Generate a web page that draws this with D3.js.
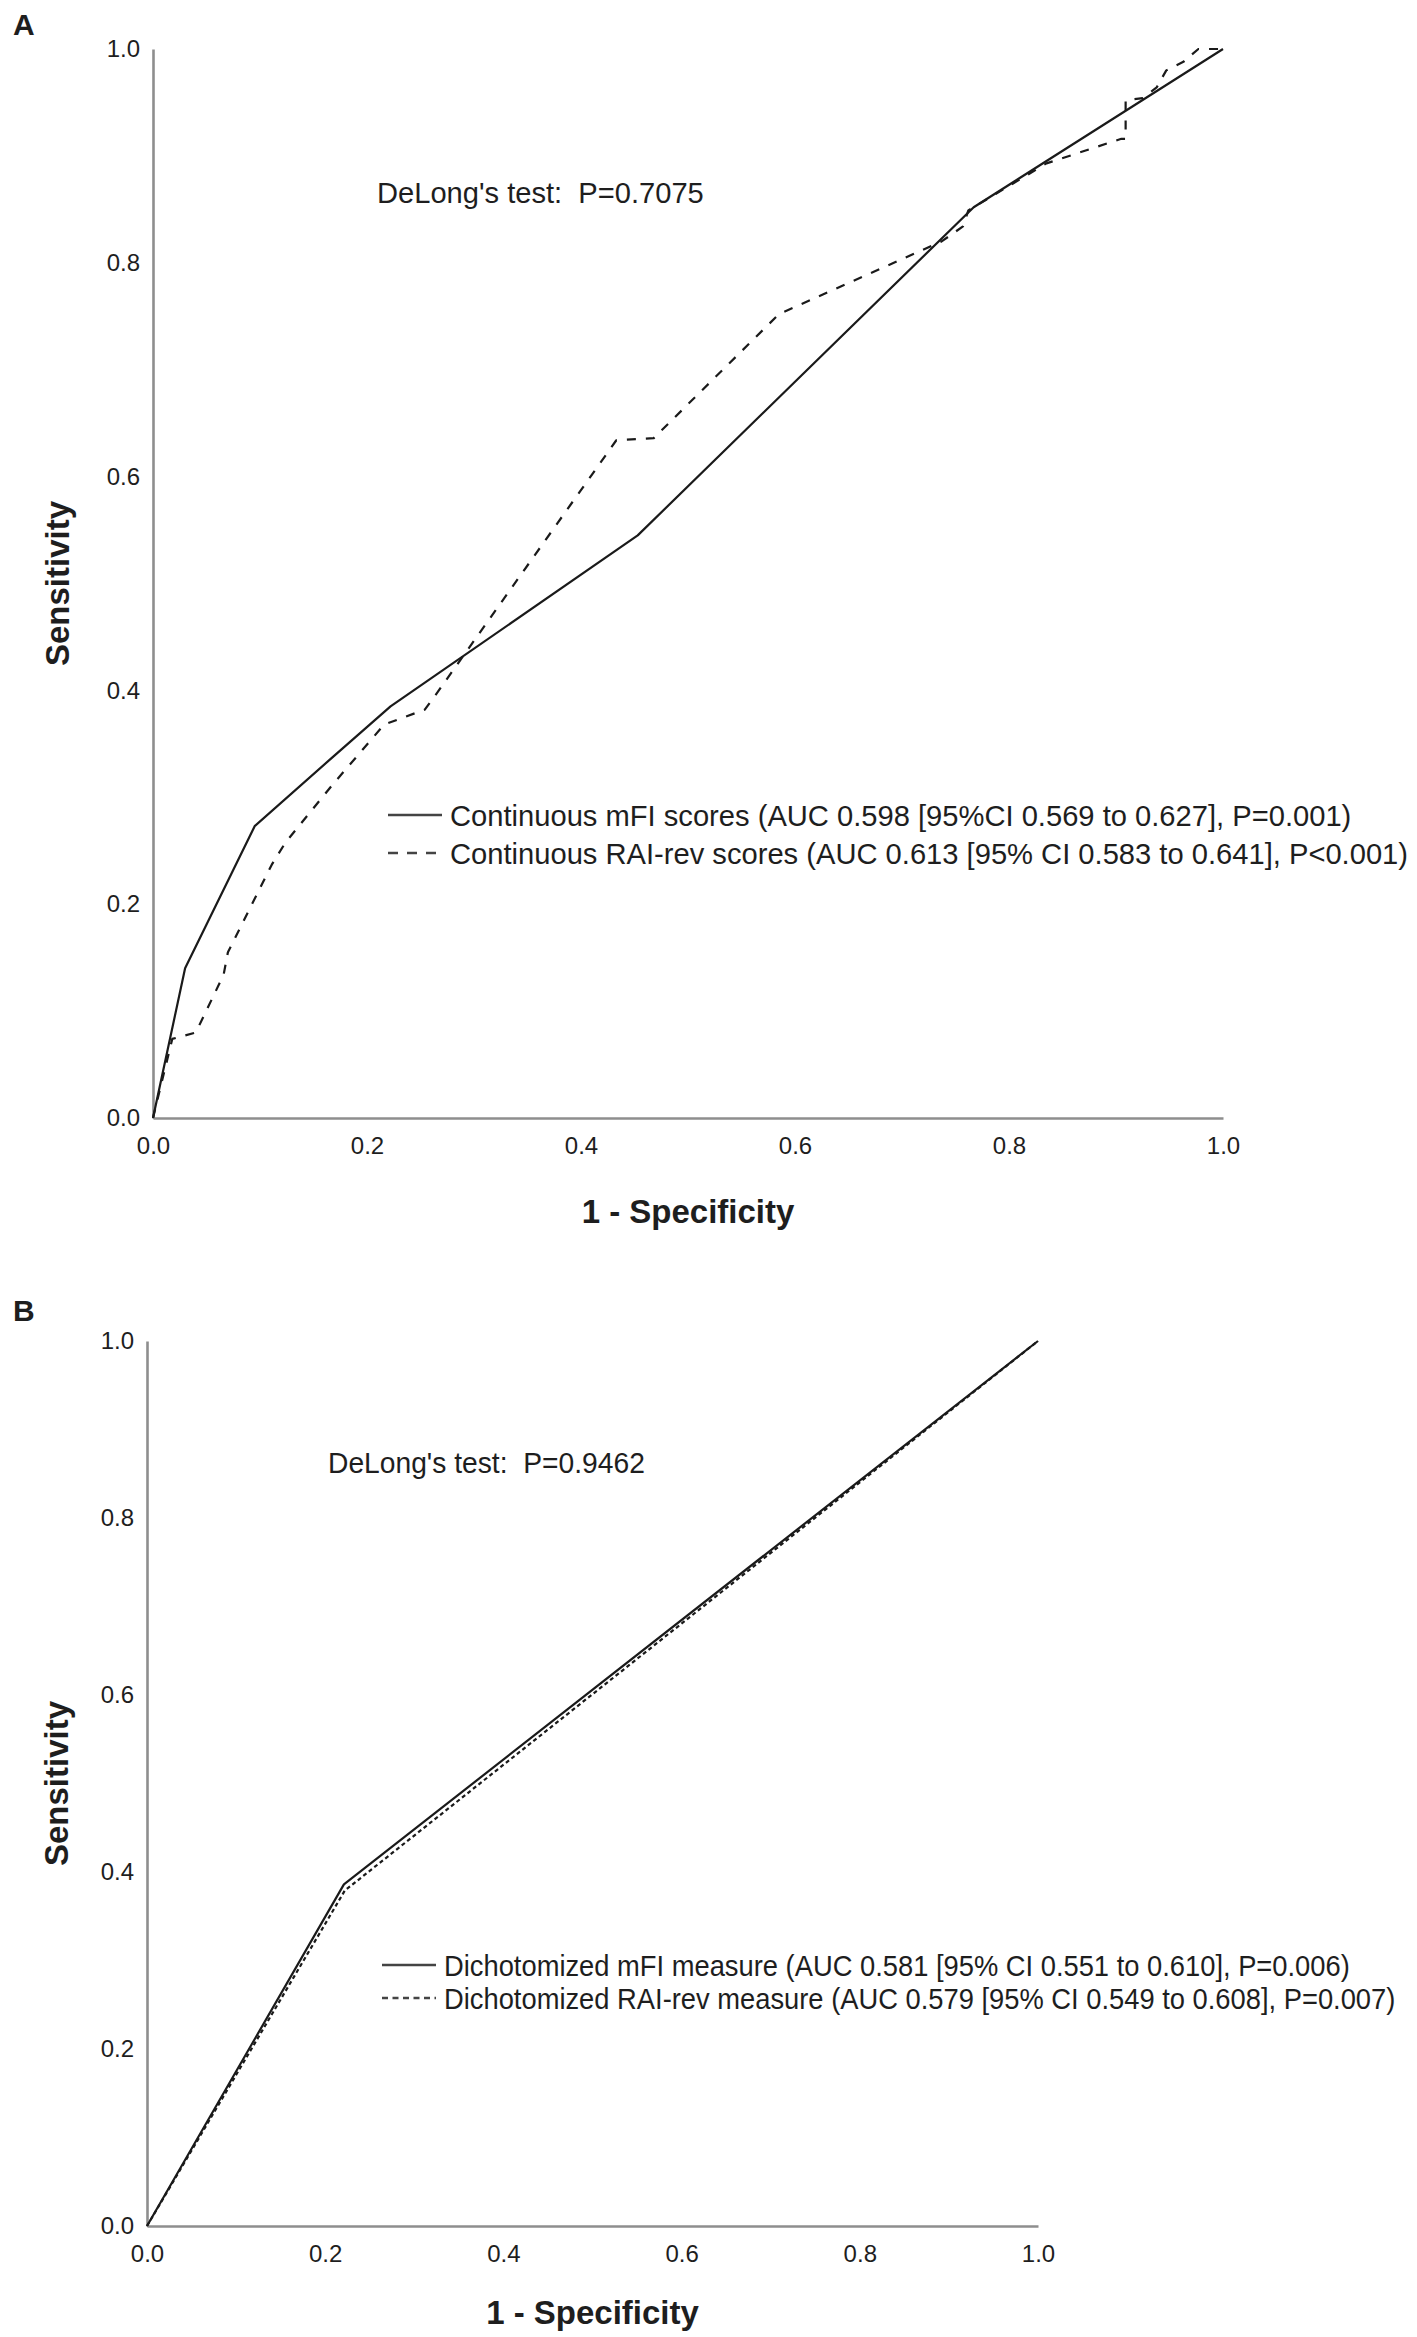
<!DOCTYPE html>
<html><head><meta charset="utf-8">
<script src="https://cdn.jsdelivr.net/npm/d3@7"></script>
<style>
body{margin:0;background:#fff}
svg{display:block}
text{font-family:"Liberation Sans",Arial,Helvetica,sans-serif;fill:#1e1e1e;white-space:pre}
</style>
</head><body>
<svg id="chart" width="1417" height="2337"></svg>
<script>
// ---------- data ----------
const tickValues = [0, 0.2, 0.4, 0.6, 0.8, 1.0];

// Panel A: continuous scores, [1 - specificity, sensitivity]
const contMFI = [[0,0],[0.030,0.140],[0.095,0.273],[0.165,0.335],[0.222,0.385],[0.453,0.545],[0.767,0.852],[1,1]];
const contRAI = [[0,0],[0.018,0.074],[0.040,0.080],[0.066,0.134],[0.070,0.155],[0.111,0.237],[0.124,0.258],
  [0.168,0.312],[0.216,0.368],[0.254,0.382],[0.265,0.397],[0.433,0.634],[0.468,0.636],[0.585,0.752],
  [0.737,0.820],[0.757,0.834],[0.762,0.849],[0.835,0.893],[0.905,0.916],[0.909,0.916],[0.909,0.952],
  [0.925,0.954],[0.938,0.964],[0.947,0.980],[0.963,0.988],[0.977,1.0],[1,1]];

// Panel B: dichotomized measures
const dichMFI = [[0,0],[0.221,0.386],[1,1]];
const dichRAI = [[0,0],[0.222,0.379],[1,1]];

const legendA = ["Continuous mFI scores (AUC 0.598 [95%CI 0.569 to 0.627], P=0.001)",
                 "Continuous RAI-rev scores (AUC 0.613 [95% CI 0.583 to 0.641], P<0.001)"];
const legendB = ["Dichotomized mFI measure (AUC 0.581 [95% CI 0.551 to 0.610], P=0.006)",
                 "Dichotomized RAI-rev measure (AUC 0.579 [95% CI 0.549 to 0.608], P=0.007)"];
const delongA = "DeLong's test:  P=0.7075";
const delongB = "DeLong's test:  P=0.9462";

// ---------- layout ----------
const panels = [
  {letter:"A", letterY:35, x0:153, x1:1223, y0:1118, y1:49, titleOff:105,
   series:[contMFI, contRAI], dash:[null,"9,10"], legend:legendA, legendDash:[null,"10,9"],
   legX:388, legY:[815,853], legW:[905,955], delong:delongA, delX:377, delY:193, delW:327, ylabX:57},
  {letter:"B", letterY:1321, x0:147, x1:1038, y0:2226, y1:1341, titleOff:98,
   series:[dichMFI, dichRAI], dash:[null,"4,3"], legend:legendB, legendDash:[null,"6,4.5"],
   legX:382, legY:[1965,1998], legW:[910,948], delong:delongB, delX:328, delY:1463, delW:317, ylabX:56}
];

const svg = d3.select("#chart");

// squeeze text horizontally so it spans the measured width of the reference
function squeeze(items, targets){
  let f = 0;
  items.forEach((it,i)=>{ f += targets[i] / it.node.getComputedTextLength(); });
  f /= items.length;
  items.forEach(it => d3.select(it.node).attr("x", 0).attr("y", 0)
    .attr("transform", `translate(${it.x},${it.y}) scale(${f},1)`));
}

panels.forEach(p => {
  const g = svg.append("g");
  const x = d3.scaleLinear().domain([0,1]).range([p.x0, p.x1]);
  const y = d3.scaleLinear().domain([0,1]).range([p.y0, p.y1]);

  // panel letter
  g.append("text").attr("x", 13).attr("y", p.letterY)
    .attr("font-size", 30).attr("font-weight", "bold").attr("fill", "#000").text(p.letter);

  // axes
  const xa = g.append("g").attr("transform", `translate(0,${p.y0})`)
    .call(d3.axisBottom(x).tickValues(tickValues).tickSize(0).tickSizeOuter(0).tickPadding(19).tickFormat(d3.format(".1f")));
  const ya = g.append("g").attr("transform", `translate(${p.x0},0)`)
    .call(d3.axisLeft(y).tickValues(tickValues).tickSize(0).tickSizeOuter(0).tickPadding(13).tickFormat(d3.format(".1f")));
  [xa, ya].forEach(a => {
    a.select(".domain").attr("stroke", "#8e8e8e").attr("stroke-width", 2.6);
    a.selectAll("text").attr("font-size", 24).attr("fill", "#222")
      .style("font-family", '"Liberation Sans",Arial,sans-serif');
  });

  // axis titles
  g.append("text").attr("x", (p.x0 + p.x1) / 2).attr("y", p.y0 + p.titleOff)
    .attr("text-anchor", "middle").attr("font-size", 33).attr("font-weight", "bold")
    .text("1 - Specificity");
  g.append("text").attr("transform", `translate(${p.ylabX + 12},${(p.y0 + p.y1) / 2}) rotate(-90)`)
    .attr("text-anchor", "middle").attr("font-size", 33).attr("font-weight", "bold")
    .text("Sensitivity");

  // curves
  const line = d3.line().x(d => x(d[0])).y(d => y(d[1]));
  p.series.forEach((s, i) => {
    g.append("path").datum(s).attr("d", line)
      .attr("fill", "none").attr("stroke", "#1a1a1a").attr("stroke-width", 2.2)
      .attr("stroke-linejoin", "round")
      .attr("stroke-dasharray", p.dash[i]);
  });

  // DeLong annotation
  const dt = g.append("text").attr("font-size", 29).text(p.delong);
  squeeze([{node:dt.node(), x:p.delX, y:p.delY + 10}], [p.delW]);

  // legend
  const items = [];
  p.legend.forEach((t, i) => {
    g.append("line").attr("x1", p.legX).attr("x2", p.legX + 54)
      .attr("y1", p.legY[i]).attr("y2", p.legY[i])
      .attr("stroke", "#444").attr("stroke-width", 2.6)
      .attr("stroke-dasharray", p.legendDash[i]);
    const tx = g.append("text").attr("font-size", 29.5).text(t);
    items.push({node:tx.node(), x:p.legX + 62, y:p.legY[i] + 10.5});
  });
  squeeze(items, p.legW);
});
</script>
</body></html>
